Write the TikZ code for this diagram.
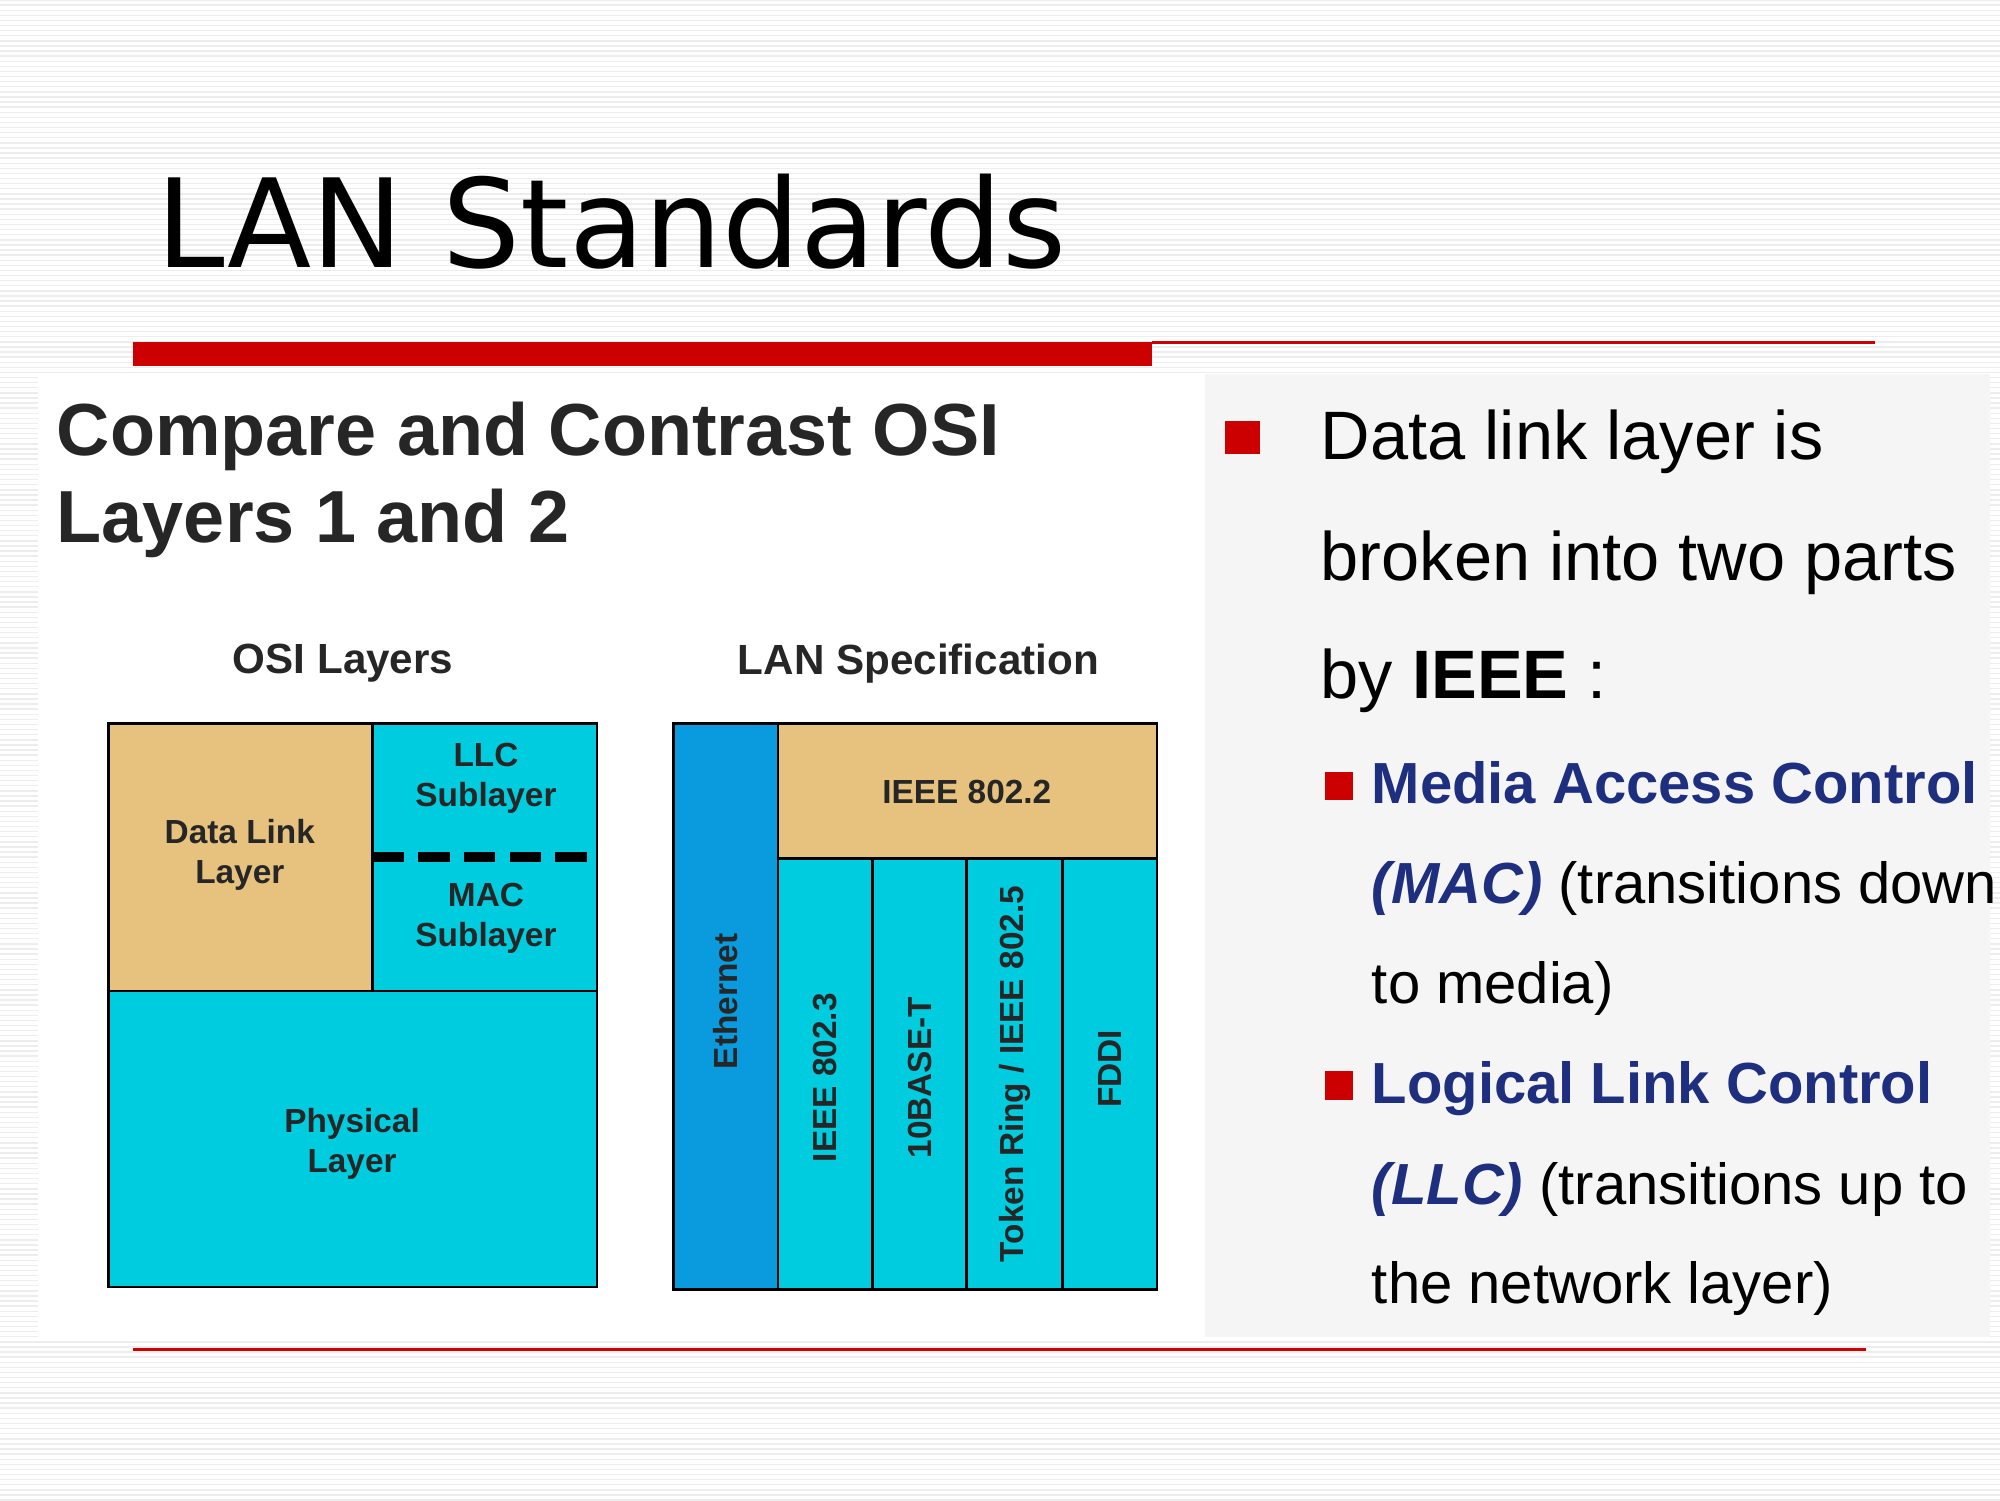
\documentclass[tikz,border=0pt]{standalone}
\usepackage{fontspec}
\setmainfont{Liberation Sans}
\newfontfamily\titlefont{DejaVu Sans}
\begin{document}
\begin{tikzpicture}[x=0.012755cm,y=-0.012755cm,
  box/.style={draw=black,line width=0.8pt},
  lab/.style={font=\fontsize{9.5}{11.5}\selectfont\bfseries,align=center,text=black!85},
  body/.style={anchor=base west,font=\fontsize{19.5}{22}\selectfont,inner sep=0},
  sub/.style={anchor=base west,font=\fontsize{16.5}{20}\selectfont,inner sep=0}]
\definecolor{tan}{HTML}{E6C27E}
\definecolor{cy}{HTML}{00CCE0}
\definecolor{eth}{HTML}{0A9BDF}
\definecolor{rd}{HTML}{CC0000}
\definecolor{navy}{HTML}{1F2F80}
\useasboundingbox (0,0) rectangle (1568,1176);
\fill[white] (0,0) rectangle (1568,1176);
\foreach \i in {0,4,...,1176} \draw[black!7,line width=0.4pt] (0,\i) -- (1568,\i);
\fill[white] (30,293) rectangle (945,1048);
\fill[white!96!black] (945,293) rectangle (1560,1048);
\node[anchor=base west,inner sep=0,font=\titlefont\fontsize{35}{40}\selectfont] (title) at (122,210) {LAN Standards};
\fill[rd] (104,268) rectangle (903,287);
\draw[rd,line width=0.6pt] (903,268.5) -- (1470,268.5);
\draw[rd,line width=0.6pt] (104,1058) -- (1463,1058);
\node[anchor=base west,inner sep=0,align=left,font=\fontsize{21}{24.5}\selectfont\bfseries,text=black!85] (h1) at (44,357) {Compare and Contrast OSI};
\node[anchor=base west,inner sep=0,font=\fontsize{21}{24.5}\selectfont\bfseries,text=black!85] (h2) at (44,425) {Layers 1 and 2};
\node[font=\fontsize{12}{14}\selectfont\bfseries,text=black!85] (osi) at (269,520) {OSI Layers};
\node[font=\fontsize{12}{14}\selectfont\bfseries,text=black!85] (lans) at (720,520) {LAN Specification};
% OSI
\fill[tan] (85,567) rectangle (292,777);
\fill[cy] (292,567) rectangle (468,777);
\fill[cy] (85,777) rectangle (468,1009);
\draw[box] (85,567) rectangle (468,1009);
\draw[box] (292,567) -- (292,777);
\draw[box] (85,777) -- (468,777);
\draw[black,line width=3pt,dash pattern=on 9pt off 4pt] (292,672) -- (468,672);
\node[lab] (dl) at (188,670) {Data Link\\Layer};
\node[lab] (llc) at (381,610) {LLC\\Sublayer};
\node[lab] (mac) at (381,720) {MAC\\Sublayer};
\node[lab] (phy) at (276,897) {Physical\\Layer};
% LAN spec
\fill[eth] (528,567) rectangle (610,1011);
\fill[tan] (610,567) rectangle (907,673);
\fill[cy] (610,673) rectangle (907,1011);
\draw[box] (528,567) rectangle (907,1011);
\draw[box] (610,567) -- (610,1011);
\draw[box] (610,673) -- (907,673);
\foreach \x in {684,758,833} \draw[box] (\x,673) -- (\x,1011);
\node[lab] (ieee2) at (758,621) {IEEE 802.2};
\node[lab,rotate=90] (ethn) at (569,785) {Ethernet};
\node[lab,rotate=90] (i3) at (647,845) {IEEE 802.3};
\node[lab,rotate=90] (tb) at (721,845) {10BASE-T};
\node[lab,rotate=90] (tr) at (796,842) {Token Ring / IEEE 802.5};
\node[lab,rotate=90] (fd) at (870,838) {FDDI};
% right text
\fill[rd] (960,330) rectangle (988,356);
\node[body] (t1) at (1035,360) {Data link layer is};
\node[body] (t2) at (1035,455) {broken into two parts};
\node[body] (t3) at (1035,548) {by \textbf{IEEE} :};
\fill[rd] (1039,605) rectangle (1061,627);
\node[sub] (s1) at (1075,630) {\textcolor{navy}{\textbf{Media Access Control}}};
\node[sub] (s2) at (1075,708) {\textcolor{navy}{\textbf{\textit{(MAC)}}} (transitions down};
\node[sub] (s3) at (1075,787) {to media)};
\fill[rd] (1039,840) rectangle (1061,862);
\node[sub] (s4) at (1075,865) {\textcolor{navy}{\textbf{Logical Link Control}}};
\node[sub] (s5) at (1075,944) {\textcolor{navy}{\textbf{\textit{(LLC)}}} (transitions up to};
\node[sub] (s6) at (1075,1022) {the network layer)};
\end{tikzpicture}
\end{document}
